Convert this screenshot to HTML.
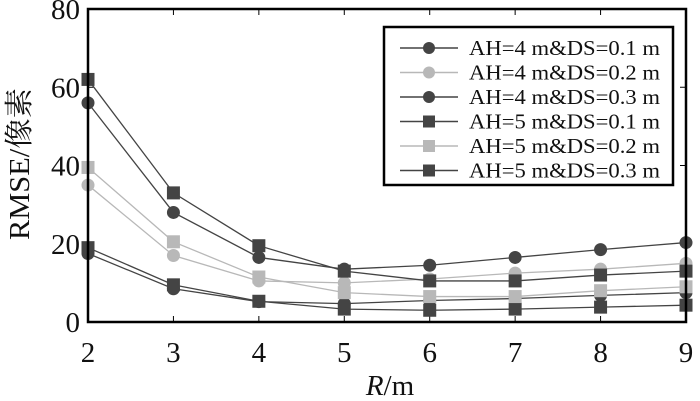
<!DOCTYPE html>
<html><head><meta charset="utf-8"><style>body{margin:0;background:#fff}svg{display:block}text{font-family:"Liberation Serif","Noto Serif CJK SC",serif;fill:#111}</style></head>
<body>
<svg id="s" width="700" height="401" xmlns="http://www.w3.org/2000/svg"></svg>
<script>
const X=v=>88+(v-2)*(598/7), Y=v=>322-v*(313/80);
const D='#444',L='#b8b8b8';
const series=[
 {c:D,m:'c',d:[17.5,8.5,5.2,4.7,5.5,6,6.8,7.5]},
 {c:L,m:'c',d:[35,17,10.5,10,11,12.5,13.5,15]},
 {c:D,m:'c',d:[56,28,16.5,13.5,14.5,16.5,18.5,20.3]},
 {c:D,m:'s',d:[19,9.5,5.3,3.3,3,3.3,3.8,4.3]},
 {c:L,m:'s',d:[39.5,20.5,11.5,7.5,6.5,6.5,8,9]},
 {c:D,m:'s',d:[62,33,19.5,13,10.5,10.5,12,13]}];
const labels=['AH=4 m&amp;DS=0.1 m','AH=4 m&amp;DS=0.2 m','AH=4 m&amp;DS=0.3 m','AH=5 m&amp;DS=0.1 m','AH=5 m&amp;DS=0.2 m','AH=5 m&amp;DS=0.3 m'];
function mk(m,x,y,c,r){return m=='c'?`<circle cx="${x}" cy="${y}" r="${r}" fill="${c}"/>`:`<rect x="${x-r}" y="${y-r}" width="${2*r}" height="${2*r}" fill="${c}"/>`;}
let h='';
for(let i=2;i<=9;i++){h+=`<line x1="${X(i)}" y1="322" x2="${X(i)}" y2="316" stroke="#000"/><line x1="${X(i)}" y1="9" x2="${X(i)}" y2="15" stroke="#000"/><text x="${X(i)}" y="362" font-size="29" text-anchor="middle">${i}</text>`;}
for(let v=0;v<=80;v+=20){h+=`<line x1="88" y1="${Y(v)}" x2="94" y2="${Y(v)}" stroke="#000"/><line x1="686" y1="${Y(v)}" x2="680" y2="${Y(v)}" stroke="#000"/><text x="80" y="${Y(v)+10}" font-size="29" text-anchor="end">${v}</text>`;}
series.forEach(s=>{h+=`<polyline fill="none" stroke="${s.c}" stroke-width="1.3" points="${s.d.map((v,i)=>X(i+2)+','+Y(v)).join(' ')}"/>`;s.d.forEach((v,i)=>h+=mk(s.m,X(i+2),Y(v),s.c,6.5));});
h+=`<rect x="88" y="9" width="598" height="313" fill="none" stroke="#000" stroke-width="2.5"/>`;
h+=`<rect x="384" y="27" width="289" height="158" fill="#fff" stroke="#000" stroke-width="2.5"/>`;
series.forEach((s,i)=>{const y=48+i*24.5;h+=`<line x1="400" y1="${y}" x2="458" y2="${y}" stroke="${s.c}" stroke-width="1.5"/>`+mk(s.m,429,y,s.c,6)+`<text x="469" y="${y+7}" font-size="21" textLength="191" lengthAdjust="spacingAndGlyphs">${labels[i]}</text>`;});
h+=`<text x="390" y="395" font-size="29" text-anchor="middle"><tspan font-style="italic">R</tspan>/m</text>`;
h+=`<text transform="translate(29,164) rotate(-90)" font-size="29" text-anchor="middle" textLength="152" lengthAdjust="spacingAndGlyphs">RMSE/像素</text>`;
document.getElementById('s').innerHTML=h;
</script>
</body></html>
